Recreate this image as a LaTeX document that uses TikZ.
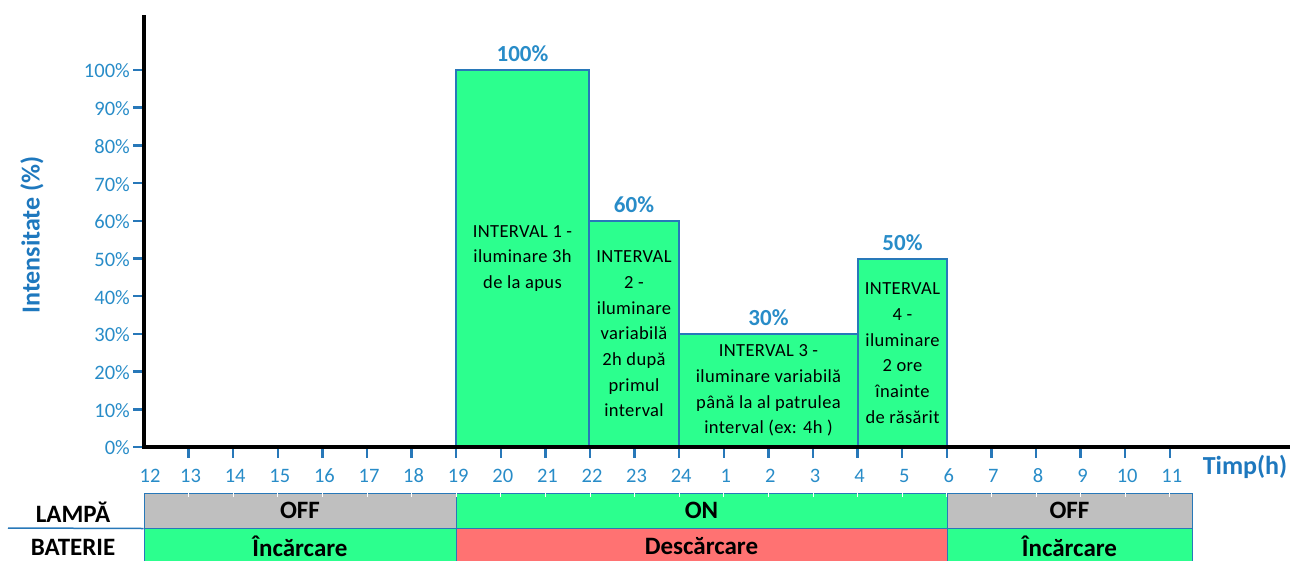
\documentclass[tikz,border=0pt]{standalone}
\usepackage{fontspec}
\setmainfont{Carlito}
\newfontfamily\barfont[LetterSpace=2]{Carlito}
\definecolor{lblblue}{RGB}{40,140,200}
\definecolor{ttlblue}{RGB}{30,120,190}
\definecolor{edgeblue}{RGB}{40,120,185}
\definecolor{bargreen}{RGB}{44,255,142}
\definecolor{offgray}{RGB}{191,191,191}
\definecolor{dischred}{RGB}{255,114,114}
\begin{document}
\begin{tikzpicture}[x=1pt,y=-1pt,
  barbox/.style={draw=edgeblue,line width=1.5pt,fill=bargreen,inner sep=0pt,align=center,
    font=\barfont\fontsize{18.5}{25.7}\selectfont,text=black},
  vallbl/.style={font=\fontsize{23}{25}\selectfont\bfseries,text=lblblue,inner sep=0pt},
  ticklbl/.style={font=\fontsize{20.5}{22}\selectfont,text=lblblue,inner sep=0pt},
  cellbox/.style={draw=edgeblue,line width=1pt,inner sep=0pt,font=\fontsize{25}{28}\selectfont\bfseries,text=black},
  rowlbl/.style={font=\fontsize{25}{28}\selectfont\bfseries,text=black,inner sep=0pt},
  bluetick/.style={draw=edgeblue,line width=2.5pt}
]
\useasboundingbox (0,0) rectangle (1290,560);
\def\hx{44.6}
% bars
\node[barbox,minimum width=133pt,minimum height=377pt] (b1) at (522.5,258.5)
  {INTERVAL 1 -\\iluminare 3h\\de la apus};
\node[barbox,minimum width=90pt,minimum height=226pt] (b2) at (634,334)
  {INTERVAL\\2 -\\iluminare\\variabilă\\2h după\\primul\\interval};
\node[barbox,minimum width=179pt,minimum height=113pt] (b3) at (768.5,390.5)
  {INTERVAL 3 -\\iluminare variabilă\\până la al patrulea\\interval (ex: 4h )};
\node[barbox,minimum width=89pt,minimum height=188pt] (b4) at (902.5,353)
  {INTERVAL\\4 -\\iluminare\\2 ore\\înainte\\de răsărit};
\node[vallbl,anchor=base] (v1) at ([yshift=8pt]b1.north) {100\%};
\node[vallbl,anchor=base] (v2) at ([yshift=8pt]b2.north) {60\%};
\node[vallbl,anchor=base] (v3) at ([yshift=8pt]b3.north) {30\%};
\node[vallbl,anchor=base] (v4) at ([yshift=8pt]b4.north) {50\%};
% y ticks
\foreach \p in {0,...,10}{
  \pgfmathsetmacro{\yy}{447-37.7*\p}
  \draw[bluetick] (133,\yy) -- (143,\yy);
  \pgfmathtruncatemacro{\pp}{10*\p}
  \node[ticklbl,anchor=east] (yl\p) at (130,\yy+1) {\pp\%};
}
% x ticks
\foreach \i/\lab in {1/13,2/14,3/15,4/16,5/17,6/18,7/19,8/20,9/21,10/22,11/23,12/24,
   13/1,14/2,15/3,16/4,17/5,18/6,19/7,20/8,21/9,22/10,23/11}{
  \pgfmathsetmacro{\xx}{144+\hx*\i}
  \draw[bluetick] (\xx,449) -- (\xx,458);
  \node[ticklbl] (xl\i) at (\xx+2,476) {\lab};
}
\node[ticklbl] (xl0) at (150,476) {12};
% axes
\draw[line width=4pt] (144,15) -- (144,449);
\draw[line width=4pt] (142,447) -- (1290,447);
\node[font=\fontsize{26}{28}\selectfont\bfseries,text=ttlblue,rotate=90] (ytitle) at (32,235) {Intensitate (\%)};
\node[font=\fontsize{26}{28}\selectfont\bfseries,text=ttlblue] (xtitle) at (1245,467) {Timp(h)};
% table
\node[cellbox,fill=offgray,minimum width=312pt,minimum height=35pt] (l1) at (300,510.5) {OFF};
\node[cellbox,fill=bargreen,minimum width=491pt,minimum height=35pt] (l2) at (701.5,510.5) {ON};
\node[cellbox,fill=offgray,minimum width=245pt,minimum height=35pt] (l3) at (1069.5,510.5) {OFF};
\node[cellbox,fill=bargreen,minimum width=312pt,minimum height=36pt] (t1) at (300,546) {Încărcare};
\node[cellbox,fill=dischred,minimum width=491pt,minimum height=36pt] (t2) at (701.5,546) {Descărcare};
\node[cellbox,fill=bargreen,minimum width=245pt,minimum height=36pt] (t3) at (1069.5,546) {Încărcare};
\foreach \i in {1,...,23}{
  \pgfmathsetmacro{\xx}{144+\hx*\i}
  \draw[white,line width=1pt] (\xx,493) -- (\xx,497);
}
\node[rowlbl] (rl1) at (73,512) {LAMPĂ};
\node[rowlbl] (rl2) at (73,547) {BATERIE};
\draw[edgeblue,line width=1.5pt] (8,528) -- (l1.south west);
\end{tikzpicture}
\end{document}
